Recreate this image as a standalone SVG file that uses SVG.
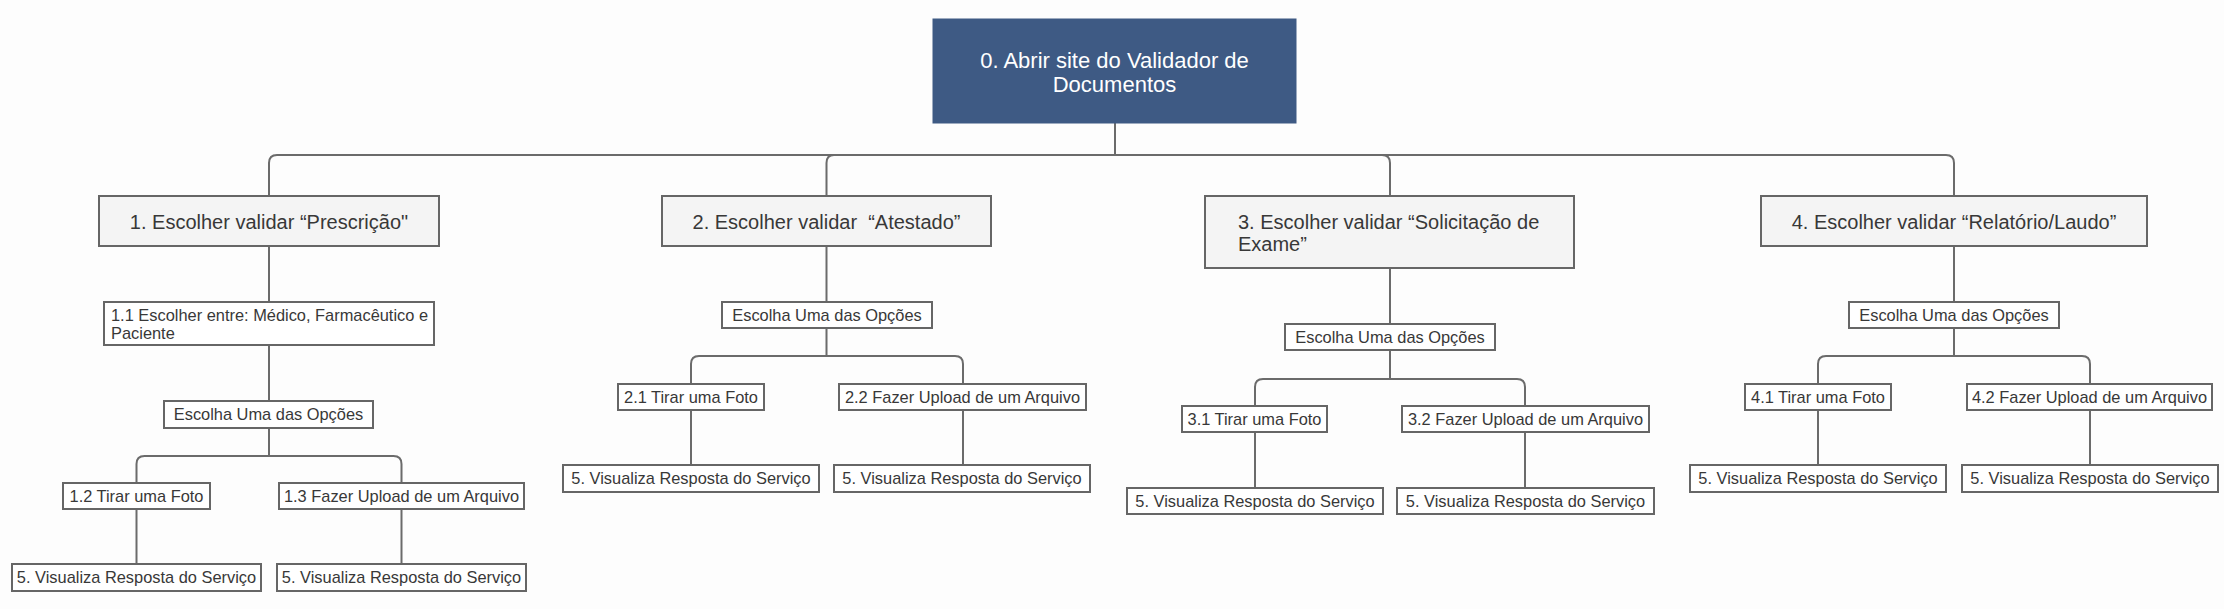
<svg xmlns="http://www.w3.org/2000/svg" width="2224" height="609" viewBox="0 0 2224 609">
<style>
text{font-family:"Liberation Sans",Arial,sans-serif;fill:#383838}
.root rect{fill:#3e5a84;stroke:#3e5a84;stroke-width:1}
.root text{fill:#fff;font-size:22px;text-anchor:middle}
.l1 rect{fill:#f4f4f4;stroke:#666;stroke-width:2}
.l1 text{font-size:20px}
.l2 rect{fill:#fff;stroke:#666;stroke-width:2}
.l2 text{font-size:16.4px}
.c{text-anchor:middle}
.conn path{fill:none;stroke:#6b6b6b;stroke-width:2}
</style>
<rect width="2224" height="609" fill="#fdfdfd"/>
<g class="conn" id="connectors">
<path d="M1115 123 V155 H277 Q269 155 269 163 V196"/>
<path d="M1115 155 H834 Q826.5 155 826.5 163 V196"/>
<path d="M1115 155 H1382 Q1390 155 1390 163 V196"/>
<path d="M1115 155 H1946 Q1954 155 1954 163 V196"/>
<path d="M269 246 V302"/>
<path d="M269 345 V401"/>
<path d="M269 428 V456 H144.5 Q136.5 456 136.5 464 V483"/>
<path d="M269 456 H393.5 Q401.5 456 401.5 464 V483"/>
<path d="M136.5 509 V564"/>
<path d="M401.5 509 V564"/>
<path d="M826.5 246 V302"/>
<path d="M826.5 328 V356 H699 Q691 356 691 364 V384"/>
<path d="M826.5 356 H955 Q963 356 963 364 V384"/>
<path d="M691 410 V465"/>
<path d="M963 410 V465"/>
<path d="M1390 268 V324"/>
<path d="M1390 350 V379 H1263 Q1255 379 1255 387 V406"/>
<path d="M1390 379 H1517 Q1525 379 1525 387 V406"/>
<path d="M1255 432 V488"/>
<path d="M1525 432 V488"/>
<path d="M1954 246 V302"/>
<path d="M1954 328 V356 H1826 Q1818 356 1818 364 V384"/>
<path d="M1954 356 H2082 Q2090 356 2090 364 V384"/>
<path d="M1818 410 V465"/>
<path d="M2090 410 V465"/>
</g>
<g id="n0" class="root"><rect x="933" y="19" width="363" height="104"/><text x="1114.5" y="68">0. Abrir site do Validador de</text><text x="1114.5" y="92">Documentos</text></g>
<g id="n1" class="l1"><rect x="99" y="196" width="340" height="50"/><text class="c" x="269" y="229">1. Escolher validar “Prescrição"</text></g>
<g id="n2" class="l1"><rect x="662" y="196" width="329" height="50"/><text class="c" x="826.5" y="229" xml:space="preserve">2. Escolher validar  “Atestado”</text></g>
<g id="n3" class="l1"><rect x="1205" y="196" width="369" height="72"/><text x="1238" y="229">3. Escolher validar “Solicitação de</text><text x="1238" y="251">Exame”</text></g>
<g id="n4" class="l1"><rect x="1761" y="196" width="386" height="50"/><text class="c" x="1954" y="229">4. Escolher validar “Relatório/Laudo”</text></g>
<g id="n1_1" class="l2"><rect x="104" y="302" width="330" height="43"/><text x="111" y="321">1.1 Escolher entre: Médico, Farmacêutico e</text><text x="111" y="339">Paciente</text></g>
<g id="n1_opt" class="l2"><rect x="164" y="401" width="209" height="27"/><text class="c" x="268.5" y="420">Escolha Uma das Opções</text></g>
<g id="n1_2" class="l2"><rect x="63" y="483" width="147" height="26"/><text class="c" x="136.5" y="501.5">1.2 Tirar uma Foto</text></g>
<g id="n1_3" class="l2"><rect x="279" y="483" width="245" height="26"/><text class="c" x="401.5" y="501.5">1.3 Fazer Upload de um Arquivo</text></g>
<g id="n1_2_r" class="l2"><rect x="12" y="564" width="249" height="27"/><text class="c" x="136.5" y="583">5. Visualiza Resposta do Serviço</text></g>
<g id="n1_3_r" class="l2"><rect x="277" y="564" width="249" height="27"/><text class="c" x="401.5" y="583">5. Visualiza Resposta do Serviço</text></g>
<g id="n2_opt" class="l2"><rect x="722" y="302" width="210" height="26"/><text class="c" x="827" y="320.5">Escolha Uma das Opções</text></g>
<g id="n2_1" class="l2"><rect x="618" y="384" width="146" height="26"/><text class="c" x="691" y="402.5">2.1 Tirar uma Foto</text></g>
<g id="n2_2" class="l2"><rect x="839" y="384" width="247" height="26"/><text class="c" x="962.5" y="402.5">2.2 Fazer Upload de um Arquivo</text></g>
<g id="n2_1_r" class="l2"><rect x="563" y="465" width="256" height="27"/><text class="c" x="691" y="484">5. Visualiza Resposta do Serviço</text></g>
<g id="n2_2_r" class="l2"><rect x="834" y="465" width="256" height="27"/><text class="c" x="962" y="484">5. Visualiza Resposta do Serviço</text></g>
<g id="n3_opt" class="l2"><rect x="1285" y="324" width="210" height="26"/><text class="c" x="1390" y="342.5">Escolha Uma das Opções</text></g>
<g id="n3_1" class="l2"><rect x="1182" y="406" width="145" height="26"/><text class="c" x="1254.5" y="424.5">3.1 Tirar uma Foto</text></g>
<g id="n3_2" class="l2"><rect x="1402" y="406" width="247" height="26"/><text class="c" x="1525.5" y="424.5">3.2 Fazer Upload de um Arquivo</text></g>
<g id="n3_1_r" class="l2"><rect x="1127" y="488" width="256" height="26"/><text class="c" x="1255" y="506.5">5. Visualiza Resposta do Serviço</text></g>
<g id="n3_2_r" class="l2"><rect x="1397" y="488" width="257" height="26"/><text class="c" x="1525.5" y="506.5">5. Visualiza Resposta do Serviço</text></g>
<g id="n4_opt" class="l2"><rect x="1849" y="302" width="210" height="26"/><text class="c" x="1954" y="320.5">Escolha Uma das Opções</text></g>
<g id="n4_1" class="l2"><rect x="1745" y="384" width="146" height="26"/><text class="c" x="1818" y="402.5">4.1 Tirar uma Foto</text></g>
<g id="n4_2" class="l2"><rect x="1967" y="384" width="245" height="26"/><text class="c" x="2089.5" y="402.5">4.2 Fazer Upload de um Arquivo</text></g>
<g id="n4_1_r" class="l2"><rect x="1690" y="465" width="256" height="27"/><text class="c" x="1818" y="484">5. Visualiza Resposta do Serviço</text></g>
<g id="n4_2_r" class="l2"><rect x="1962" y="465" width="256" height="27"/><text class="c" x="2090" y="484">5. Visualiza Resposta do Serviço</text></g>
</svg>
